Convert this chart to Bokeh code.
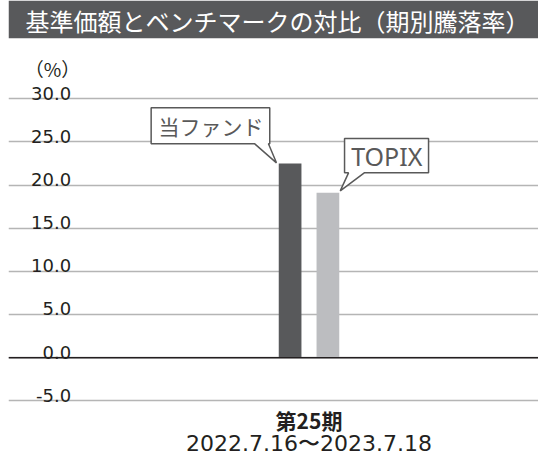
from bokeh.plotting import figure
from bokeh.models import Range1d, FixedTicker, Grid, Span, BoxAnnotation, Label
from bokeh.core.properties import value
from bokeh.embed import file_html
from bokeh.resources import INLINE

# ---------------- data ----------------
title_text = "基準価額とベンチマークの対比（期別騰落率）"
unit_label = "（%）"
period_labels = ["第25期"]
period_dates = ["2022.7.16〜2023.7.18"]
series_names = ["当ファンド", "TOPIX"]
fund_returns = [22.5]
topix_returns = [19.1]
y_ticks = [-5, 0, 5, 10, 15, 20, 25, 30]
y_tick_labels = ["-5.0", "0.0", "5.0", "10.0", "15.0", "20.0", "25.0", "30.0"]

# ---------------- layout (pixels, figure coordinates) ----------------
W, H = 538, 456
LEFT = 8                     # frame starts 8px into the figure
FW = W - LEFT                # frame width
PX_X = 475.0                 # pixels per category unit
XC = 308.5                   # figure px of category centre
X0 = XC - LEFT               # frame px of category centre
PX_Y = 302.0 / 35.0          # pixels per percent
Y_TOP = 30 + 98.3 / PX_Y     # value at frame top

def dx(px):
    return px / PX_X

def dy(px):
    return px / PX_Y

def yfig(py):
    return Y_TOP - py / PX_Y

def xfig(px):
    return (px - XC) / PX_X

x_range = Range1d(-X0 / PX_X, (FW - X0) / PX_X)
y_range = Range1d(Y_TOP - H / PX_Y, Y_TOP)

p = figure(width=W, height=H, x_range=x_range, y_range=y_range,
           output_backend="svg", toolbar_location=None,
           min_border=0, min_border_left=LEFT)
p.outline_line_color = None
p.background_fill_color = "white"
p.border_fill_color = "white"
p.xaxis.visible = False
p.yaxis.visible = False
p.xgrid.visible = False
p.ygrid.visible = False

JP = "Noto Sans CJK JP"
TXT = "#231f20"
GRAY = "#595959"

# horizontal gridlines
p.add_layout(Grid(dimension=1, ticker=FixedTicker(ticks=y_ticks),
                  grid_line_color="#b5b5b5", grid_line_width=1.5))

# title bar
p.add_layout(BoxAnnotation(bottom=yfig(37.7), fill_color="#58595b", fill_alpha=1.0,
                           line_alpha=0, level="underlay"))
p.add_layout(Label(x=xfig(25), y=yfig(19.5), text=title_text,
                   text_font=JP, text_font_size="24px", text_color="white",
                   text_baseline="middle", text_align="left"))

# unit label
p.add_layout(Label(x=xfig(52), y=yfig(67.5), text=unit_label,
                   text_font=JP, text_font_size="19px", text_color=TXT,
                   text_baseline="middle", text_align="center"))

# y tick labels (above their gridlines)
p.text(x=[xfig(70.7)] * len(y_ticks), y=y_ticks, text=y_tick_labels,
       text_align="right", text_baseline="alphabetic", y_offset=-5.6,
       text_font=value("DejaVu Sans"), text_font_size="18px", text_color=TXT)

# bars
BAR_W = dx(22.7)
OFF = dx(18.9)
xs = list(range(len(period_labels)))
fund_x = [i - OFF for i in xs]
topix_x = [i + OFF for i in xs]
p.vbar(x=fund_x, top=fund_returns, bottom=0, width=BAR_W, fill_color="#58595b", line_color=None)
p.vbar(x=topix_x, top=topix_returns, bottom=0, width=BAR_W, fill_color="#bcbdc0", line_color=None)

# zero line
p.add_layout(Span(location=0, dimension="width", line_color=TXT, line_width=1.5))

# callouts (anchored on bar tops, offsets in pixels)
def poly(ax, ay, pts):
    return [ax + dx(u) for u, v in pts], [ay + dy(v) for u, v in pts]

fa_x, fa_y = fund_x[0] - BAR_W / 2, fund_returns[0]
f_pts = [(-127.6, 55.7), (-9, 55.7), (-9, 19.7), (-10.3, 19.7), (-2.3, 0.7), (-24, 19.7), (-127.6, 19.7)]
ta_x, ta_y = topix_x[0] + BAR_W / 2, topix_returns[0]
t_pts = [(5.3, 54.4), (89.3, 54.4), (89.3, 20), (25, 20), (1, 2), (9.3, 20), (5.3, 20)]
fxs, fys = poly(fa_x, fa_y, f_pts)
txs, tys = poly(ta_x, ta_y, t_pts)
p.patches(xs=[fxs, txs], ys=[fys, tys], fill_color="white", line_color=GRAY, line_width=1.5)

p.text(x=[fa_x + dx(-67.8)], y=[fa_y + dy(37.5)], text=[series_names[0]],
       text_align="center", text_baseline="middle",
       text_font=value(JP), text_font_size="21px", text_color=GRAY)
p.text(x=[ta_x + dx(47.5)], y=[ta_y + dy(37)], text=[series_names[1]],
       text_align="center", text_baseline="middle",
       text_font=value("Noto Sans"), text_font_size="25px", text_color=GRAY)

# period labels under the plot
p.text(x=xs, y=[yfig(419.0)] * len(xs), text=period_labels,
       text_align="center", text_baseline="middle",
       text_font=value(JP), text_font_size="21px", text_font_style="bold", text_color=TXT)
p.text(x=xs, y=[yfig(455.5)] * len(xs), text=period_dates,
       text_align="center", text_baseline="bottom",
       text_font=value("DejaVu Sans"), text_font_size="22px", text_color=TXT)

open("out.html", "w").write(file_html(p, INLINE))
